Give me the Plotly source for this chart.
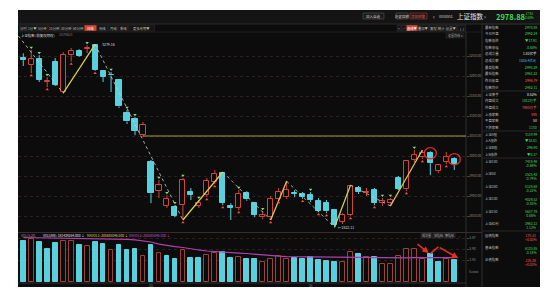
import plotly.graph_objects as go

W, H = 559, 307

# ---------------- data (上证指数 daily, 2019-04-09 .. 2019-06-28) ----------------
dates = ["04-09", "04-10", "04-11", "04-12", "04-15", "04-16", "04-17", "04-18", "04-19", "04-22",
         "04-23", "04-24", "04-25", "04-26", "04-29", "04-30", "05-06", "05-07", "05-08", "05-09",
         "05-10", "05-13", "05-14", "05-15", "05-16", "05-17", "05-20", "05-21", "05-22", "05-23",
         "05-24", "05-27", "05-28", "05-29", "05-30", "05-31", "06-03", "06-04", "06-05", "06-06",
         "06-10", "06-11", "06-12", "06-13", "06-14", "06-17", "06-18", "06-19", "06-20", "06-21",
         "06-24", "06-25", "06-26", "06-27", "06-28"]
opens = [3244, 3227, 3242, 3186, 3235, 3160, 3252, 3262, 3268, 3277,
         3212, 3203, 3190, 3107, 3092, 3052, 2985, 2912, 2876, 2872,
         2877, 2910, 2876, 2902, 2935, 2957, 2875, 2870, 2907, 2882,
         2847, 2847, 2892, 2897, 2908, 2905, 2902, 2887, 2882, 2865,
         2835, 2852, 2920, 2907, 2915, 2882, 2882, 2945, 2917, 2990,
         2997, 3007, 2962, 2985, 2992]
highs = [3257, 3265, 3252, 3197, 3245, 3260, 3270, 3267, 3277, 3279,
         3215, 3210, 3192, 3115, 3097, 3085, 2990, 2940, 2902, 2877,
         2945, 2920, 2890, 2945, 2965, 2960, 2882, 2915, 2912, 2885,
         2862, 2900, 2920, 2937, 2915, 2910, 2910, 2895, 2890, 2867,
         2857, 2927, 2925, 2920, 2920, 2895, 2895, 2950, 2990, 3015,
         3015, 3012, 2980, 3010, 2997]
lows = [3225, 3207, 3185, 3172, 3175, 3157, 3236, 3248, 3257, 3213,
        3185, 3160, 3120, 3080, 3052, 3047, 2882, 2895, 2870, 2847,
        2840, 2890, 2870, 2897, 2930, 2877, 2840, 2865, 2888, 2847,
        2842, 2840, 2890, 2892, 2897, 2893, 2885, 2860, 2857, 2822,
        2830, 2850, 2905, 2900, 2877, 2875, 2875, 2915, 2912, 2985,
        2992, 2952, 2957, 2980, 2965]
closes = [3239.66, 3241.93, 3189.96, 3188.63, 3177.79, 3253.60, 3263.12, 3250.20, 3270.80, 3215.04,
          3198.59, 3201.61, 3123.83, 3086.40, 3062.50, 3078.34, 2906.46, 2926.39, 2893.76, 2850.95,
          2939.21, 2903.71, 2883.61, 2938.68, 2955.71, 2882.30, 2870.60, 2905.97, 2891.70, 2852.52,
          2852.99, 2892.38, 2909.91, 2914.70, 2905.81, 2898.70, 2890.08, 2862.28, 2861.42, 2827.80,
          2852.13, 2925.72, 2909.38, 2910.74, 2881.97, 2887.62, 2890.16, 2917.80, 2987.12, 3001.98,
          3008.15, 2982.07, 2976.28, 2996.79, 2978.88]
prev_close_first = 3244.81
volumes = [3.63, 3.78, 3.55, 2.90, 3.46, 3.61, 3.61, 3.26, 3.17, 3.55,
           3.32, 2.82, 3.26, 2.82, 2.93, 2.29, 3.26, 2.53, 2.31, 2.02,
           2.79, 2.14, 2.14, 2.38, 2.53, 2.64, 2.14, 2.17, 2.02, 2.02,
           1.73, 2.02, 2.29, 2.02, 2.09, 2.02, 2.23, 1.94, 1.87, 1.79,
           1.79, 2.61, 2.44, 2.23, 2.17, 1.58, 1.58, 2.31, 2.88, 2.88,
           2.02, 2.46, 1.79, 2.00, 1.94]
vol_ma = [3.92, 3.91, 3.90, 3.89, 3.88, 3.87, 3.86, 3.85, 3.85, 3.84,
          3.82, 3.80, 3.78, 3.76, 3.71, 3.64, 3.52, 3.34, 3.21, 3.12,
          3.04, 2.90, 2.82, 2.73, 2.67, 2.62, 2.59, 2.55, 2.51, 2.44,
          2.38, 2.33, 2.27, 2.23, 2.22, 2.21, 2.20, 2.19, 2.18, 2.17,
          2.16, 2.15, 2.15, 2.14, 2.14, 2.13, 2.12, 2.12, 2.13, 2.14,
          2.14, 2.15, 2.15, 2.15, 2.15]
price_ticks = [2850, 2900, 2950, 3000, 3050, 3100, 3150, 3200, 3250]
vol_ticks = [1.93, 2.90, 3.87]
month_ticks = [16, 36]
month_labels = ["05", "06"]
# zigzag pivots (candle index, price); first point starts at left edge
zig_idx = [-0.6, 5, 9, 20, 25, 31, 33, 39, 41, 46, 50]
zig_px = [3300, 3157, 3279, 2840, 2960, 2840, 2937, 2822, 2927, 2875, 3015]
hline_from, hline_price = 15, 3050
green_marks = [1, 2, 3, 8, 11, 13, 14, 17, 18, 19, 20, 22, 27, 30, 36, 45, 46, 49]
red_marks = [1, 3, 6, 9, 20, 23, 24, 25, 27, 31, 32, 35, 37, 38, 41, 44, 48, 50, 53]
circled = [51, 54]
peak_label, low_label = "3279.16", "2822.11"

# ---------------- geometry ----------------
PL, PR = 18, 466
PT, PB = 36, 230
VT, VB = 236, 282
BG = "#0c0c0c"
RED = "#d2453a"
RED_V = "#9c4038"
CYAN = "#58d0dd"
GRID = "#2b2121"
FONT = "Noto Sans CJK SC"

def fx(p):
    return p / W

def fy(p):
    return 1 - p / H

n = len(closes)
idx = list(range(n))
up = [c >= o for o, c in zip(opens, closes)]
prevs = [prev_close_first] + closes[:-1]
vol_up = [c >= p for c, p in zip(closes, prevs)]

fig = go.Figure()

MINB = 2.0
def body(i):
    lo, hi = min(opens[i], closes[i]), max(opens[i], closes[i])
    if hi - lo < MINB:
        m = (hi + lo) / 2
        return m - MINB / 2, MINB
    return lo, hi - lo

for flag, fill, line in [(True, BG, RED), (False, CYAN, CYAN)]:
    sel = [i for i in idx if up[i] == flag]
    wx, wy = [], []
    for i in sel:
        b, h = body(i)
        wx += [i, i, None, i, i, None]
        wy += [b + h, highs[i], None, lows[i], b, None]
    fig.add_trace(go.Scatter(x=wx, y=wy, mode="lines", line=dict(color=line, width=1),
                             hoverinfo="skip", showlegend=False, xaxis="x", yaxis="y"))
    fig.add_trace(go.Bar(x=sel, base=[body(i)[0] for i in sel], y=[body(i)[1] for i in sel],
                         width=0.64, marker=dict(color=fill, line=dict(color=line, width=1)),
                         showlegend=False, xaxis="x", yaxis="y"))

for flag, fill, line in [(True, BG, RED_V), (False, CYAN, CYAN)]:
    sel = [i for i in idx if vol_up[i] == flag]
    fig.add_trace(go.Bar(x=sel, y=[volumes[i] for i in sel], width=0.6,
                         marker=dict(color=fill, line=dict(color=line, width=1)),
                         showlegend=False, xaxis="x2", yaxis="y2"))
fig.add_trace(go.Scatter(x=idx, y=vol_ma, mode="lines", line=dict(color="#b23fb0", width=1.2),
                         showlegend=False, xaxis="x2", yaxis="y2"))

for k in range(len(zig_idx) - 1):
    rising = zig_px[k + 1] > zig_px[k]
    fig.add_trace(go.Scatter(x=[zig_idx[k], zig_idx[k + 1]], y=[zig_px[k], zig_px[k + 1]],
                             mode="lines",
                             line=dict(color="#e3cf55" if rising else "#cfcfcf",
                                       width=1.2 if rising else 0.8,
                                       dash="solid" if rising else "dot"),
                             showlegend=False, xaxis="x", yaxis="y"))
fig.add_trace(go.Scatter(x=[hline_from, n + 0.5], y=[hline_price, hline_price], mode="lines",
                         line=dict(color="#a99a3e", width=1), showlegend=False, xaxis="x", yaxis="y"))
fig.add_trace(go.Scatter(x=green_marks, y=[highs[i] + 6 for i in green_marks], mode="markers",
                         marker=dict(symbol="triangle-down", size=3, color="#7fe07a"),
                         showlegend=False, xaxis="x", yaxis="y"))
fig.add_trace(go.Scatter(x=red_marks, y=[lows[i] - 6 for i in red_marks], mode="markers",
                         marker=dict(symbol="triangle-up", size=3, color="#ff4a3a"),
                         showlegend=False, xaxis="x", yaxis="y"))

shapes = []
ann = []

def T(x, y, text, size=4, color="#bdbdbd", anchor="left", bold=False):
    if bold:
        text = "<b>" + text + "</b>"
    ann.append(dict(x=fx(x), y=fy(y), xref="paper", yref="paper", text=text, showarrow=False,
                    xanchor=anchor, yanchor="middle", borderpad=0,
                    font=dict(size=size, color=color, family=FONT)))

def R(x0, y0, x1, y1, fill=None, line=None, lw=1, layer="below"):
    shapes.append(dict(type="rect", xref="paper", yref="paper", x0=fx(x0), x1=fx(x1),
                       y0=fy(y1), y1=fy(y0), fillcolor=fill or "rgba(0,0,0,0)",
                       line=dict(color=line or "rgba(0,0,0,0)", width=lw if line else 0),
                       layer=layer))

def L(x0, y0, x1, y1, color="#2e2e2e", lw=1, layer="below"):
    shapes.append(dict(type="line", xref="paper", yref="paper", x0=fx(x0), x1=fx(x1),
                       y0=fy(y0), y1=fy(y1), line=dict(color=color, width=lw), layer=layer))

R(18, 10, 540, 287, fill=BG)
R(18, 10, 540, 24, fill="#141414")
L(18, 24, 540, 24, "#2a2a2a")
L(18, 32, 482, 32, "#1f1f1f")
L(18, 232.5, 482, 232.5, "#3a2c2c")
L(466, 32, 466, 287, "#2e2e2e")
L(482, 24, 482, 287, "#2e2e2e")
L(18, 283, 466, 283, "#2e2e2e")

for (x0, x1, t, c) in [(363, 384, "加入自选", "#cfcfcf"), (396, 408, "历史回顾", "#cfcfcf"),
                       (410, 427, "添加预警", "#e05050")]:
    R(x0, 13, x1, 19, fill="#1c1c1c", line="#555555" if c != "#e05050" else "#a03030", lw=0.6)
    T((x0 + x1) / 2, 16, t, 3.5, c, "center")
T(434, 16, "‹", 6, "#cfcfcf", "center")
T(446, 16, "000001", 4.2, "#cfcfcf", "center")
T(470, 16, "上证指数", 6.5, "#e8e8e8", "center")
T(485, 16, "›", 6, "#cfcfcf", "center")
T(511, 16, "2978.88", 7.5, "#3fdc5a", "center", bold=True)
T(529, 16, "-17.91<br>-0.60%", 3.0, "#3fdc5a", "center")

periods = ["分时", "1分▼", "5分钟", "15分钟", "30分钟", "60分钟", "日线", "周线", "月线", "季线", "更多周期▼"]
edges = [19, 27, 37, 48, 60, 72, 84, 97, 108, 118, 128, 155]
for k, t in enumerate(periods):
    x0, x1 = edges[k], edges[k + 1]
    active = t == "日线"
    R(x0 + 0.3, 25, x1 - 0.3, 31, fill="#d8432f" if active else "#151515",
      line="#333333", lw=0.5)
    T((x0 + x1) / 2, 28, t, 3.3, "#ffffff" if active else "#bdbdbd", "center")
tools = ["+", "−", "画线▼", "叠加▼", "复权", "统计", "设置▼", "⋮⋮"]
tedges = [397, 401.5, 406, 418, 429, 437, 446, 457, 466]
for k, t in enumerate(tools):
    x0, x1 = tedges[k], tedges[k + 1]
    active = t == "画线▼"
    R(x0 + 0.3, 25, x1 - 0.3, 31, fill="#d8432f" if active else "#151515", line="#3a3a3a", lw=0.5)
    T((x0 + x1) / 2, 28, t, 3.3, "#ffffff" if active else "#bdbdbd", "center")

T(20, 35, "上证指数 (前复权除权)", 3.4, "#dcdcdc")
T(58, 35, "20190628", 3.0, "#777777")
R(446, 33, 464, 38, fill="#151515", line="#333333", lw=0.5)
T(455, 35.5, "设置均线 ▾", 3.0, "#aaaaaa", "center")

ann.append(dict(x=9, y=highs[9], xref="x", yref="y", text=peak_label, showarrow=False,
                xanchor="left", xshift=5, font=dict(size=3.5, color="#dddddd", family=FONT)))
ann.append(dict(x=39, y=lows[39], xref="x", yref="y", text="←" + low_label, showarrow=False,
                xanchor="left", xshift=1, font=dict(size=3.5, color="#dddddd", family=FONT)))

for i in circled:
    cy = max(opens[i], closes[i])
    shapes.append(dict(type="circle", xref="x", yref="y", x0=i - 0.75, x1=i + 0.75,
                       y0=cy - 14, y1=cy + 14, line=dict(color="#e62a2a", width=1.3)))

ann.append(dict(x=50.8, y=2.55, ax=49.2, ay=3.45, xref="x2", yref="y2", axref="x2", ayref="y2",
                showarrow=True, arrowhead=2, arrowsize=0.8, arrowwidth=1.6, arrowcolor="#e83020", text=""))
shapes.append(dict(type="line", xref="x2", yref="y2", x0=51.0, y0=2.50, x1=52.0, y1=3.10,
                   line=dict(color="#e83020", width=1.6)))
ann.append(dict(x=54.5, y=2.10, ax=52.0, ay=3.10, xref="x2", yref="y2", axref="x2", ayref="y2",
                showarrow=True, arrowhead=2, arrowsize=0.8, arrowwidth=1.6, arrowcolor="#e83020", text=""))

T(20, 235.5, "VOL(5,20)", 3.3, "#9a9a9a")
T(42, 235.5, "VOLUME: 181439264.000 ↓", 3.3, "#e6e6e6")
T(86, 235.5, "MAVOL1: 208685046.000 ↓", 3.3, "#e0d050")
T(128, 235.5, "MAVOL2: 208685046.000 ↓", 3.3, "#c850c8")
for (x0, x1, t) in [(421, 432, "成交量"), (433, 443, "加指标"), (444, 455, "换指标")]:
    R(x0, 233.5, x1, 238, fill="#151515", line="#3a3a3a", lw=0.5)
    T((x0 + x1) / 2, 235.8, t, 3.0, "#bbbbbb", "center")
T(459, 235.8, "›", 4, "#888888", "center")
T(474, 272, "X10000", 2.8, "#888888", "center")

rows = [("最新指数", "2978.88", "#3fdc5a"), ("今日开盘", "2992.24", "#3fdc5a"),
        ("指数涨跌", "▼17.91", "#3fdc5a"), ("指数涨幅", "-0.60%", "#3fdc5a"),
        ("总成交量", "1.81亿手", "#e6e6e6"), ("总成交额", "1836.4亿元", "#4fb8f0"),
        ("最高指数", "2995.29", "#3fdc5a"), ("最低指数", "2961.22", "#3fdc5a"),
        ("昨日收盘", "2996.79", "#ff5a4a"), ("指数均价", "2982.11", "#3fdc5a"),
        ("上证换手", "0.52%", "#e6e6e6"), ("内盘成交", "1813万手", "#3fdc5a"),
        ("外盘成交", "7985万手", "#ff5a4a"), ("上涨家数", "590", "#ff5a4a"),
        ("平盘家数", "58", "#e6e6e6"), ("下跌家数", "1130", "#3fdc5a"),
        ("上证A股", "3119.99", "#3fdc5a"), ("上A涨跌", "▼18.81", "#3fdc5a"),
        ("上证B股", "296.90", "#3fdc5a"), ("上B涨跌", "▼0.17", "#3fdc5a")]
for k, (lab, val, col) in enumerate(rows):
    y = 27.3 + 6.67 * k
    T(484, y, lab, 3.4, "#bcbcbc")
    T(538, y, val, 3.4, col, "right")
groups = [("上证180", "7419.48", "-0.69%", "#3fdc5a"), ("上证50", "2525.43", "-0.74%", "#3fdc5a"),
          ("上证380", "5128.68", "-0.22%", "#3fdc5a"), ("上证100", "4029.52", "-0.03%", "#3fdc5a"),
          ("上证150", "5637.78", "0.06%", "#3fdc5a"), ("上证红利", "3963.12", "1.12%", "#3fdc5a"),
          ("国债指数", "175.21", "+0.03%", "#ff5a4a"), ("基金指数", "6135.85", "-0.18%", "#3fdc5a"),
          ("企债指数", "235.38", "+0.03%", "#ff5a4a")]
gys = [161, 173.5, 186, 198.5, 211, 223, 235, 247.3, 259.3]
for (lab, v, p, col), y in zip(groups, gys):
    T(484, y, lab, 3.4, "#bcbcbc")
    T(538, y + 2.85, v + "<br>" + p, 3.4, col, "right")
for y in [24, 91, 131, 158, 231]:
    L(482, y, 540, y, "#262626")

fig.update_layout(
    width=W, height=H, margin=dict(l=0, r=0, t=0, b=0),
    paper_bgcolor="white", plot_bgcolor="rgba(0,0,0,0)",
    barmode="overlay", bargap=0, showlegend=False,
    shapes=shapes, annotations=ann,
    xaxis=dict(domain=[fx(PL), fx(PR)], range=[-0.66, 55.47], anchor="y",
               showgrid=False, zeroline=False, showticklabels=False, fixedrange=True),
    xaxis2=dict(domain=[fx(PL), fx(PR)], range=[-0.66, 55.47], anchor="y2", matches="x",
                showgrid=False, zeroline=False, tickvals=month_ticks, ticktext=month_labels,
                ticks="", tickfont=dict(size=3.5, color="#777777", family=FONT), ticklen=0),
    yaxis=dict(domain=[fy(PB), fy(PT)], range=[2815, 3300], side="right", anchor="x",
               tickvals=price_ticks, ticktext=[f"{v:.2f}" for v in price_ticks],
               tickfont=dict(size=3.3, color="#8a8a8a", family=FONT),
               showgrid=True, gridcolor=GRID, griddash="dot", gridwidth=1, zeroline=False,
               ticks="outside", ticklen=1.5, tickcolor="#444444"),
    yaxis2=dict(domain=[fy(VB), fy(VT)], range=[0, 4.05], side="right", anchor="x2",
                tickvals=vol_ticks, ticktext=[f"{v:.2f}" for v in vol_ticks],
                tickfont=dict(size=3.3, color="#8a8a8a", family=FONT),
                showgrid=True, gridcolor=GRID, griddash="dot", zeroline=False,
                ticks="outside", ticklen=1.5, tickcolor="#444444"),
)

fig.write_html("out.html")
